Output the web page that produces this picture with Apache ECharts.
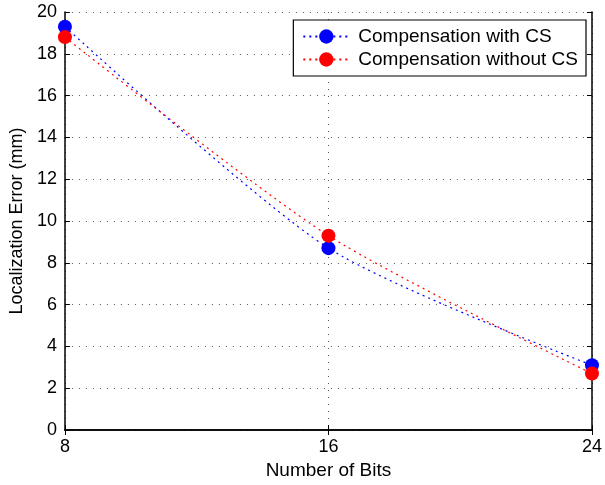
<!DOCTYPE html>
<html><head><meta charset="utf-8">
<script src="https://cdn.jsdelivr.net/npm/echarts@6/dist/echarts.min.js"></script>
<style>html,body{margin:0;padding:0;background:#fff}#c{width:605px;height:485px}</style>
</head><body><div id="c"></div>
<script>
const bits = [8, 16, 24];
const withCS = [19.3, 8.7, 3.1];
const withoutCS = [18.8, 9.3, 2.7];
const seriesNames = ['Compensation with CS', 'Compensation without CS'];

const font = 'Liberation Sans, Arial, sans-serif';
const chart = echarts.init(document.getElementById('c'));
const axisLine = {show: true, lineStyle: {color: '#000', width: 1.5}};
const tick = {show: true, inside: true, length: 5, lineStyle: {color: '#000', width: 1}};
chart.setOption({
  animation: false,
  backgroundColor: '#fff',
  grid: {left: 62, right: 10, top: 12, bottom: 52, containLabel: false},
  legend: {
    right: 19, top: 20, orient: 'vertical',
    backgroundColor: '#fff', borderColor: '#000', borderWidth: 1.2,
    padding: [7, 8, 7, 9], itemGap: 4, itemWidth: 46, itemHeight: 18,
    textStyle: {fontFamily: font, fontSize: 19, color: '#000', padding: [0, 0, 0, 4]},
    data: seriesNames
  },
  xAxis: [{
    type: 'value', min: 8, max: 24, interval: 8,
    name: 'Number of Bits', nameLocation: 'middle', nameGap: 31,
    nameTextStyle: {fontFamily: font, fontSize: 19, color: '#000'},
    axisLine: axisLine, axisTick: tick,
    axisLabel: {fontFamily: font, fontSize: 18, color: '#000', margin: 8},
    splitLine: {show: true, lineStyle: {color: '#555', type: [1, 6], width: 1}}
  }, {
    type: 'value', min: 8, max: 24, interval: 8, position: 'top',
    axisLine: axisLine, axisTick: tick,
    axisLabel: {show: false}, splitLine: {show: false}
  }],
  yAxis: [{
    type: 'value', min: 0, max: 20, interval: 2,
    name: 'Localization Error (mm)', nameLocation: 'middle', nameGap: 33,
    nameTextStyle: {fontFamily: font, fontSize: 18, color: '#000'},
    axisLine: axisLine, axisTick: tick,
    axisLabel: {fontFamily: font, fontSize: 18, color: '#000', margin: 8},
    splitLine: {show: true, lineStyle: {color: '#555', type: [1, 6], width: 1}}
  }, {
    type: 'value', min: 0, max: 20, interval: 2, position: 'right',
    axisLine: axisLine, axisTick: tick,
    axisLabel: {show: false}, splitLine: {show: false}
  }],
  series: [{
    name: seriesNames[0], type: 'line', smooth: 0.25,
    data: bits.map((b, i) => [b, withCS[i]]),
    symbol: 'circle', symbolSize: 14,
    itemStyle: {color: '#0000ff'},
    lineStyle: {color: '#0000ff', width: 1.2, type: [2, 4]}
  }, {
    name: seriesNames[1], type: 'line', smooth: 0.25,
    data: bits.map((b, i) => [b, withoutCS[i]]),
    symbol: 'circle', symbolSize: 14,
    itemStyle: {color: '#ff0000'},
    lineStyle: {color: '#ff0000', width: 1.2, type: [2, 4]}
  }]
});
</script></body></html>
